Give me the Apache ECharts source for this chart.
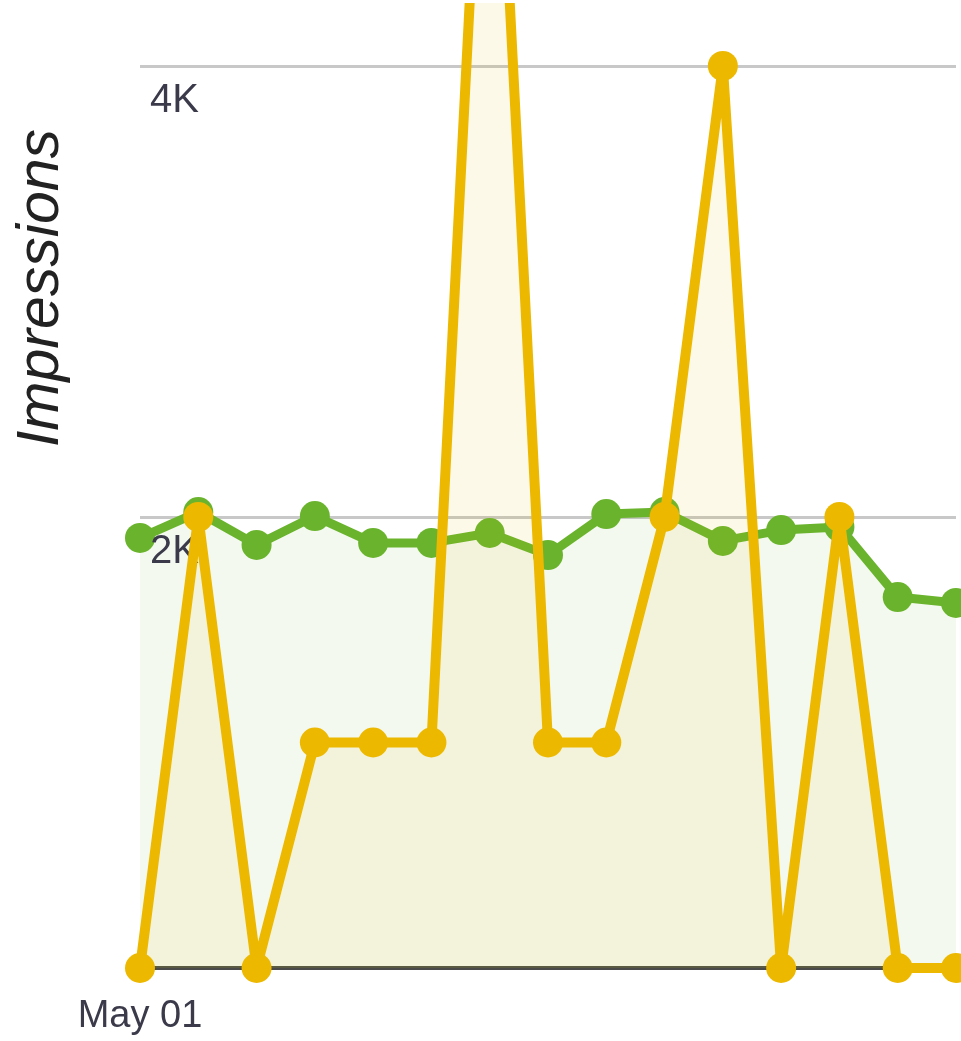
<!DOCTYPE html>
<html>
<head>
<meta charset="utf-8">
<style>
  html, body { margin: 0; padding: 0; background: #ffffff; }
  #chart { width: 961px; height: 1041px; }
</style>
<script src="https://cdn.jsdelivr.net/npm/echarts@6/dist/echarts.min.js"></script>
</head>
<body>
<div id="chart"></div>
<script>
// Daily impressions, first half of May
const days = ['May 01', 'May 02', 'May 03', 'May 04', 'May 05', 'May 06', 'May 07', 'May 08',
              'May 09', 'May 10', 'May 11', 'May 12', 'May 13', 'May 14', 'May 15'];
const siteImpressions = [1907, 2022, 1876, 2004, 1885, 1885, 1929, 1831, 2013, 2022, 1894, 1942, 1956, 1645, 1619];
const pageImpressions = [0, 2000, 0, 1000, 1000, 1000, 6000, 1000, 1000, 2000, 4000, 0, 2000, 0, 0];
// visible value window of the plot and gridline step
const yTicks = { min: 0, max: 4257, interval: 2000 };

const GREEN = '#6ab42d';
const YELLOW = '#edb800';
const FONT = '"Liberation Sans", Arial, sans-serif';
const GRID_COLOR = '#c8c8c8';

const chart = echarts.init(document.getElementById('chart'), null, { renderer: 'canvas' });

function kLabel(v) { return v === 0 ? '' : (v / 1000) + 'K'; }

chart.setOption({
  animation: false,
  backgroundColor: '#ffffff',
  grid: { left: 140, right: 5, top: 8, bottom: 73, containLabel: false },
  graphic: [{
    type: 'text',
    x: 42, y: 288,
    rotation: Math.PI / 2,
    style: {
      text: 'Impressions',
      font: 'italic 59px ' + FONT,
      fill: '#222',
      textAlign: 'center',
      textVerticalAlign: 'middle'
    }
  }],
  xAxis: {
    type: 'category',
    data: days,
    boundaryGap: false,
    axisLine: { show: true, lineStyle: { color: '#4a4a4a', width: 4 } },
    axisTick: { show: false },
    splitLine: { show: false },
    axisLabel: {
      interval: function (idx) { return idx === 0; },
      color: '#3a3a4a',
      fontFamily: FONT,
      fontSize: 38,
      margin: 30
    }
  },
  yAxis: [{
    type: 'value',
    min: yTicks.min, max: yTicks.max, interval: yTicks.interval,
    axisLine: { show: false },
    axisTick: { show: false },
    axisLabel: { show: false },
    // the last tick is the top edge of the plot; no rule there
    splitLine: { show: true, lineStyle: { color: [GRID_COLOR, GRID_COLOR, GRID_COLOR, 'rgba(0,0,0,0)'], width: 3 } }
  }, {
    type: 'value',
    min: yTicks.min, max: yTicks.max, interval: yTicks.interval,
    position: 'left',
    z: 3,
    axisLine: { show: false },
    axisTick: { show: false },
    splitLine: { show: false },
    axisLabel: {
      inside: true,
      showMaxLabel: false,
      margin: 10,
      align: 'left',
      verticalAlign: 'top',
      padding: [15, 0, 0, 0],
      color: '#3a3a4a',
      fontFamily: FONT,
      fontSize: 40,
      formatter: kLabel
    }
  }],
  series: [{
    name: 'Site',
    type: 'line',
    data: siteImpressions,
    z: 2,
    symbol: 'circle',
    symbolSize: 30,
    showAllSymbol: true,
    lineStyle: { color: GREEN, width: 9 },
    itemStyle: { color: GREEN },
    areaStyle: { color: 'rgba(106,180,45,0.11)' }
  }, {
    name: 'Page',
    type: 'line',
    data: pageImpressions,
    z: 4,
    symbol: 'circle',
    symbolSize: 30,
    showAllSymbol: true,
    lineStyle: { color: YELLOW, width: 10 },
    itemStyle: { color: YELLOW },
    areaStyle: { color: 'rgba(237,184,0,0.12)' }
  }]
});
</script>
</body>
</html>
